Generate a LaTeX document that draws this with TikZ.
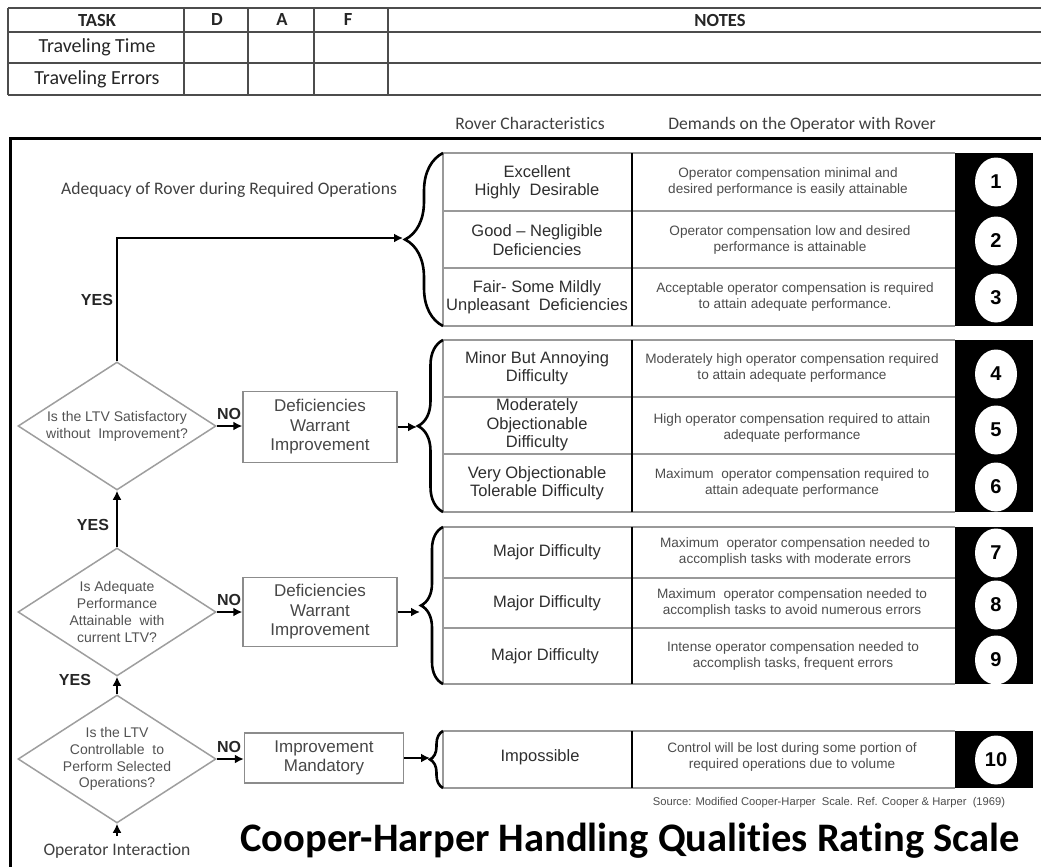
\documentclass[tikz,border=0pt]{standalone}
\usepackage{fontspec}
\setmainfont{Liberation Sans}
\newfontfamily\calfont[Ligatures=NoCommon]{Carlito}
\usetikzlibrary{shapes.geometric,decorations.pathreplacing,arrows.meta}
\begin{document}
\begin{tikzpicture}[x=1pt,y=-1pt]
\tikzset{
 tline/.style={draw=black!70, line width=1.3pt},
 gline/.style={draw=black!40, line width=1.4pt},
 dline/.style={draw=black, line width=1.4pt},
 dia/.style={shape=diamond, draw=black!38, line width=1.5pt, minimum width=198pt, minimum height=128pt, inner sep=-12pt, align=center, text=black!68, font=\fontsize{14}{16.8}\selectfont},
 fbox/.style={draw=black!45, line width=1.4pt, align=center, text=black!72, font=\fontsize{17}{19.5}\selectfont, inner sep=0pt},
 arr/.style={line width=2.6pt, -{Latex[length=9pt,width=9pt]}},
 brc/.style={decorate, decoration={brace, amplitude=#1}, line width=2.6pt},
 cone/.style={align=center, text=black!82, font=\fontsize{16.5}{18.5}\selectfont},
 ctwo/.style={align=center, text=black!70, font=\fontsize{13.6}{15.8}\selectfont},
 num/.style={ellipse, fill=white, minimum width=42pt, minimum height=49pt, inner sep=0pt, font=\fontsize{20}{24}\selectfont\bfseries},
 lbl/.style={font=\calfont\fontsize{17.6}{21}\selectfont, text=black!75},
 tbl/.style={font=\calfont\fontsize{20}{24}\selectfont, text=black!85},
 tblh/.style={font=\calfont\fontsize{18.5}{22}\selectfont\bfseries, text=black!85},
 yn/.style={font=\fontsize{16}{19}\selectfont\bfseries, text=black!85},
}
\useasboundingbox (0,0) rectangle (1041,867);
% ---------- top table ----------
\foreach \yy in {8,32,63,95} \draw[tline] (8,\yy) -- (1041,\yy);
\foreach \xx in {8,184,248,314,388} \draw[tline] (\xx,8) -- (\xx,95);
\node[tblh] (hTask) at (97,20) {TASK};
\node[tblh] (hD) at (217,20) {D};
\node[tblh] (hA) at (282,20) {A};
\node[tblh] (hF) at (348,20) {F};
\node[tblh] (hNotes) at (720,20) {NOTES};
\node[tbl] (rTime) at (97,47) {Traveling Time};
\node[tbl] (rErr) at (97,79) {Traveling Errors};
% ---------- headers and frame ----------
\node[lbl, anchor=base] (hRover) at (530,129) {Rover Characteristics};
\node[lbl, anchor=base] (hDemand) at (802,129) {Demands on the Operator with Rover};
\draw[line width=3pt] (1041,138) -- (10,138) -- (10,867);
\node[lbl] (adeq) at (229,190) {Adequacy of Rover during Required Operations};
% ---------- rating groups ----------
\fill (955,153) rectangle (1033,326);
\fill (955,340) rectangle (1033,512);
\fill (955,527) rectangle (1033,684);
\fill (955,731) rectangle (1033,788);
\draw[gline] (955,153) -- (443,153) -- (443,326) -- (955,326);
\draw[gline] (443,211) -- (955,211) (443,268) -- (955,268);
\draw[gline] (955,340) -- (443,340) -- (443,512) -- (955,512);
\draw[gline] (443,397) -- (955,397) (443,454) -- (955,454);
\draw[gline] (955,527) -- (443,527) -- (443,684) -- (955,684);
\draw[gline] (443,578) -- (955,578) (443,628) -- (955,628);
\draw[gline] (955,731) -- (443,731) -- (443,788) -- (955,788);
\draw[dline] (632,153) -- (632,326) (632,340) -- (632,512) (632,527) -- (632,684) (632,731) -- (632,788);
% group 1
\node[cone] (a1) at (537,182) {Excellent\\Highly\ \ Desirable};
\node[ctwo] (e1) at (788,182) {Operator compensation minimal and\\desired performance is easily attainable};
\node[num] (n1) at (996,182) {1};
\node[cone] (a2) at (537,240) {Good -- Negligible\\Deficiencies};
\node[ctwo] (e2) at (790,240) {Operator compensation low and desired\\performance is attainable};
\node[num] (n2) at (996,241) {2};
\node[cone] (a3) at (537,297) {Fair- Some Mildly\\Unpleasant\ \ Deficiencies};
\node[ctwo] (e3) at (795,297) {Acceptable operator compensation is required\\to attain adequate performance.};
\node[num] (n3) at (996,298) {3};
% group 2
\node[cone] (a4) at (537,368) {Minor But Annoying\\Difficulty};
\node[ctwo] (e4) at (792,368) {Moderately high operator compensation required\\to attain adequate performance};
\node[num] (n4) at (996,374) {4};
\node[cone] (a5) at (537,425) {Moderately\\Objectionable\\Difficulty};
\node[ctwo] (e5) at (792,428) {High operator compensation required to attain\\adequate performance};
\node[num] (n5) at (996,430) {5};
\node[cone] (a6) at (537,483) {Very Objectionable\\Tolerable Difficulty};
\node[ctwo] (e6) at (792,483) {Maximum\ \ operator compensation required to\\attain adequate performance};
\node[num] (n6) at (996,487) {6};
% group 3
\node[cone] (a7) at (547,552) {Major Difficulty};
\node[ctwo] (e7) at (795,552) {Maximum\ \ operator compensation needed to\\accomplish tasks with moderate errors};
\node[num] (n7) at (996,553) {7};
\node[cone] (a8) at (547,603) {Major Difficulty};
\node[ctwo] (e8) at (792,603) {Maximum\ \ operator compensation needed to\\accomplish tasks to avoid numerous errors};
\node[num] (n8) at (996,605) {8};
\node[cone] (a9) at (545,656) {Major Difficulty};
\node[ctwo] (e9) at (793,656) {Intense operator compensation needed to\\accomplish tasks, frequent errors};
\node[num] (n9) at (996,660) {9};
% group 4
\node[cone] (a10) at (540,757) {Impossible};
\node[ctwo] (e10) at (792,757) {Control will be lost during some portion of\\required operations due to volume};
\node[num] (n10) at (996,760) {10};
\node[ctwo, font=\fontsize{11.2}{13}\selectfont] (src) at (829,803) {Source: Modified Cooper-Harper\ \ Scale. Ref. Cooper \& Harper\ \ (1969)};
% ---------- braces ----------
\draw[brc=38] (443,326) -- (443,153);
\draw[brc=25] (443,512) -- (443,340);
\draw[brc=22] (443,684) -- (443,527);
\draw[brc=13] (443,788) -- (443,731);
\coordinate (t1) at (403,238);
\coordinate (t2) at (417,426);
\coordinate (t3) at (420,606);
\coordinate (t4) at (430,759);
% ---------- flowchart ----------
\node[dia] (d1) at (117,426) {Is the LTV Satisfactory\\without\ \ Improvement?};
\node[dia] (d2) at (117,612) {Is Adequate\\Performance\\Attainable\ \ with\\current LTV?};
\node[dia] (d3) at (117,759) {Is the LTV\\Controllable\ \ to\\Perform Selected\\Operations?};
\node[fbox, minimum width=154pt, minimum height=71pt] (b1) at (320,427) {Deficiencies\\Warrant\\Improvement};
\node[fbox, minimum width=154pt, minimum height=69pt] (b2) at (320,612) {Deficiencies\\Warrant\\Improvement};
\node[fbox, minimum width=159pt, minimum height=50pt] (b3) at (324,758) {Improvement\\Mandatory};
\node[lbl] (op) at (117,851) {Operator Interaction};
\coordinate (opstart) at (117,836);
\draw[arr] (d1.north) |- (t1);
\draw[arr] (d2.north) -- (d1.south);
\draw[arr] (d3.north) -- (d2.south);
\draw[arr] (opstart) -- (d3.south);
\draw[arr] (d1.east) -- (d1.east -| b1.west);
\draw[arr] (d2.east) -- (d2.east -| b2.west);
\draw[arr] (d3.east) -- (d3.east -| b3.west);
\draw[arr] (b1.east) -- (b1.east -| t2);
\draw[arr] (b2.east) -- (b2.east -| t3);
\draw[arr] (b3.east) -- (b3.east -| t4);
\node[yn] (yes1) at (97,300) {YES};
\node[yn] (yes2) at (93,525) {YES};
\node[yn] (yes3) at (75,680) {YES};
\node[yn] (no1) at (229,414) {NO};
\node[yn] (no2) at (229,600) {NO};
\node[yn] (no3) at (229,747) {NO};
% ---------- title ----------
\node[font=\calfont\fontsize{40.5}{46}\selectfont\bfseries] (title) at (630,841) {Cooper-Harper Handling Qualities Rating Scale};
\end{tikzpicture}
\end{document}
